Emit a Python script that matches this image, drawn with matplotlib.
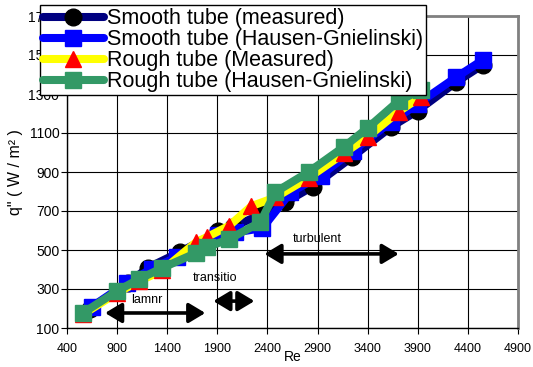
import matplotlib
matplotlib.use("Agg")
import matplotlib.pyplot as plt

plt.rcParams['font.family'] = ['Liberation Sans', 'DejaVu Sans']

# Smooth tube (measured)
re_sm = [630, 1010, 1210, 1530, 1910, 2060, 2350, 2580, 2850, 3240, 3630, 3900, 4280, 4550]
q_sm = [200, 330, 410, 490, 595, 620, 685, 745, 825, 975, 1130, 1215, 1360, 1450]

# Smooth tube (Hausen-Gnielinski)
re_sh = [650, 1000, 1250, 1500, 1910, 2080, 2350, 2630, 2930, 3250, 3630, 3900, 4280, 4550]
q_sh = [210, 332, 405, 465, 577, 590, 612, 795, 882, 1010, 1155, 1250, 1385, 1475]

# Rough tube (Measured)
re_rm = [560, 900, 1120, 1350, 1690, 1800, 2020, 2240, 2480, 2810, 3160, 3400, 3710, 3930]
q_rm = [170, 280, 340, 395, 541, 567, 625, 725, 770, 870, 995, 1080, 1210, 1285]

# Rough tube (Hausen-Gnielinski)
re_rh = [560, 900, 1120, 1350, 1690, 1800, 2020, 2330, 2480, 2810, 3160, 3400, 3710, 3930]
q_rh = [177, 290, 351, 408, 485, 515, 556, 643, 797, 900, 1028, 1126, 1265, 1320]

x_ticks = [400, 900, 1400, 1900, 2400, 2900, 3400, 3900, 4400, 4900]
y_ticks = [100, 300, 500, 700, 900, 1100, 1300, 1500, 1700]

fig = plt.figure(figsize=(5.33, 3.67), dpi=100)
ax = fig.add_axes([67/533, 1-328/367, (518-67)/533, (328-16)/367])

lw = 5.8
l1, = ax.plot(re_sm, q_sm, color='#000080', lw=lw, marker='o', ms=12,
              mfc='black', mec='black', solid_capstyle='round', zorder=3,
              label='Smooth tube (measured)')
l2, = ax.plot(re_sh, q_sh, color='#0000FF', lw=lw, marker='s', ms=12,
              mfc='#0000FF', mec='#0000FF', solid_capstyle='round', zorder=4,
              label='Smooth tube (Hausen-Gnielinski)')
l3, = ax.plot(re_rm, q_rm, color='#FFFF00', lw=lw, marker='^', ms=11.5,
              mfc='#FF0000', mec='#FF0000', solid_capstyle='round', zorder=5,
              label='Rough tube (Measured)')
l4, = ax.plot(re_rh, q_rh, color='#339966', lw=lw, marker='s', ms=11.5,
              mfc='#339966', mec='#339966', solid_capstyle='round', zorder=6,
              label='Rough tube (Hausen-Gnielinski)')

ax.set_xlim(400, 4900)
ax.set_ylim(100, 1700)
ax.set_xticks(x_ticks)
ax.set_yticks(y_ticks)
ax.tick_params(axis='x', labelsize=9, length=4, width=0.8, direction='out', color='black', pad=7)
ax.tick_params(axis='y', labelsize=10, length=4, width=0.8, direction='out', color='black', pad=1.5)
ax.grid(True, color='black', lw=0.8)
ax.set_axisbelow(True)
for s in ['left', 'bottom']:
    ax.spines[s].set_color('black')
    ax.spines[s].set_linewidth(1.0)
for s in ['top', 'right']:
    ax.spines[s].set_color('#808080')
    ax.spines[s].set_linewidth(2.0)

ax.set_xlabel('Re', fontsize=10, labelpad=-4)
ax.set_ylabel('q" ( W / m² )', fontsize=11.5, labelpad=4)

arrow_kw = dict(arrowstyle='<|-|>,head_length=1.0,head_width=0.6', color='black', lw=2.6,
                shrinkA=0, shrinkB=0)
ax.annotate('', xy=(780, 177), xytext=(1780, 177), arrowprops=arrow_kw, zorder=7)
ax.annotate('', xy=(1860, 238), xytext=(2270, 238), arrowprops=arrow_kw, zorder=7)
ax.annotate('', xy=(2370, 480), xytext=(3710, 480), arrowprops=arrow_kw, zorder=7)
ax.text(1040, 243, 'lamnr', fontsize=9, va='center', ha='left', zorder=8)
ax.text(1880, 356, 'transitio', fontsize=9, va='center', ha='center', zorder=8)
ax.text(2900, 556, 'turbulent', fontsize=9, va='center', ha='center', zorder=8)

leg = fig.legend(handles=[l1, l2, l3, l4], loc='upper left',
                 bbox_to_anchor=(40/533, 1-5/367), bbox_transform=fig.transFigure,
                 fontsize=15.5, labelspacing=0.0, handlelength=2.8, handletextpad=0.15,
                 borderpad=0.15, borderaxespad=0, fancybox=False, framealpha=1,
                 edgecolor='black')
leg.get_frame().set_linewidth(1.0)
leg.set_zorder(20)

fig.savefig('out.png', dpi=100)
